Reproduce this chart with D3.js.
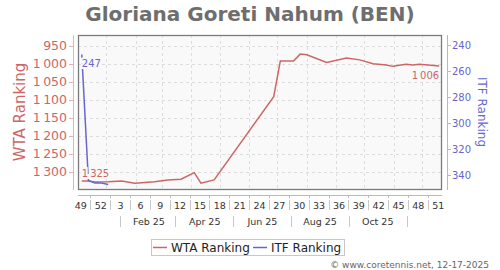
<!DOCTYPE html>
<html>
<head>
<meta charset="utf-8">
<script src="https://cdn.jsdelivr.net/npm/d3@7"></script>
<style>
  body { margin: 0; background: #fff; }
  text { font-family: "DejaVu Sans", sans-serif; }
</style>
</head>
<body>
<svg id="chart" width="500" height="270"></svg>
<script>
// WTA ranking history (weekly points where the line bends)
const wtaDates = ["2024-12-06","2024-12-13","2024-12-20","2025-01-03","2025-01-17","2025-01-31",
  "2025-02-21","2025-03-07","2025-03-21","2025-04-04","2025-04-11","2025-04-25","2025-06-27",
  "2025-07-04","2025-07-18","2025-07-25","2025-08-01","2025-08-22","2025-09-12","2025-09-26",
  "2025-10-10","2025-10-24","2025-10-31","2025-11-14","2025-11-21","2025-11-28","2025-12-19"];
const wtaRanks = [1325,1325,1328,1327,1325,1331,1327,1322,1320,1302,1331,1322,1091,
  992,992,973,975,996,984,989,1000,1003,1007,1001,1003,1001,1006];

// ITF ranking history
const itfDates = ["2024-12-06","2024-12-13","2024-12-20","2024-12-27","2025-01-03"];
const itfRanks = [247,344,346,346,347];

const wtaTicks = [950,1000,1050,1100,1150,1200,1250,1300];
const itfTicks = [240,260,280,300,320,340];
const weekLabels = ["49","52","3","6","9","12","15","18","21","24","27","30","33","36","39","42","45","48","51"];
const monthLabels = ["Feb 25","Apr 25","Jun 25","Aug 25","Oct 25"];

const parse = d3.utcParse("%Y-%m-%d");
const svg = d3.select("#chart");

const pLeft = 78, pRight = 442, pTop = 35, pBottom = 190;
const red = "#cc6666", blue = "#6666cc";

const x = d3.scaleUtc()
    .domain([parse("2024-12-02"), parse("2025-12-22")])
    .range([pLeft, pRight]);
const yWta = d3.scaleLinear().domain([920, 1350]).range([pTop, pBottom]);
const yItf = d3.scaleLinear().domain([232, 351.3]).range([pTop, pBottom]);

const fmt = d3.formatLocale({decimal: ",", thousands: "\u2009", grouping: [3], currency: ["", ""]}).format(",d");

// title
svg.append("text")
    .attr("x", 250).attr("y", 21)
    .attr("text-anchor", "middle")
    .attr("font-size", "20px").attr("font-weight", "bold")
    .attr("fill", "#6e6e6e")
    .text("Gloriana Goreti Nahum (BEN)");

// plot background
svg.append("rect")
    .attr("x", pLeft).attr("y", pTop)
    .attr("width", pRight - pLeft).attr("height", pBottom - pTop)
    .attr("fill", "#f9f9f9");

// grid
svg.append("g").selectAll("line")
    .data(wtaTicks).enter().append("line")
    .attr("x1", pLeft).attr("x2", pRight)
    .attr("y1", d => Math.round(yWta(d)) + 0.5).attr("y2", d => Math.round(yWta(d)) + 0.5)
    .attr("stroke", "#dddddd").attr("stroke-dasharray", "3,3");

const months = d3.utcMonth.range(parse("2025-01-01"), parse("2025-12-02"));
svg.append("g").selectAll("line")
    .data(months).enter().append("line")
    .attr("x1", d => Math.round(x(d)) + 0.5).attr("x2", d => Math.round(x(d)) + 0.5)
    .attr("y1", pTop).attr("y2", pBottom)
    .attr("stroke", "#dddddd").attr("stroke-dasharray", "3,3");

// series
const wta = wtaDates.map((d, i) => ({date: parse(d), v: wtaRanks[i]}));
const itf = itfDates.map((d, i) => ({date: parse(d), v: itfRanks[i]}));

svg.append("path")
    .datum(wta)
    .attr("fill", "none").attr("stroke", red).attr("stroke-width", 1.5)
    .attr("d", d3.line().x(d => x(d.date)).y(d => yWta(d.v)));

svg.append("path")
    .datum(itf)
    .attr("fill", "none").attr("stroke", blue).attr("stroke-width", 1.5)
    .attr("d", d3.line().x(d => x(d.date)).y(d => yItf(d.v)));

// point labels with halo
function pointLabel(px, py, txt, color, anchor) {
    svg.append("text")
        .attr("x", px).attr("y", py)
        .attr("text-anchor", anchor)
        .attr("font-size", "10px")
        .attr("fill", color)
        .attr("stroke", "#f9f9f9").attr("stroke-width", 4)
        .attr("paint-order", "stroke")
        .text(txt);
}
const w0 = wta[0], wN = wta[wta.length - 1], i0 = itf[0];
pointLabel(x(w0.date), yWta(w0.v) - 4, fmt(w0.v), red, "start");
pointLabel(x(wN.date), yWta(wN.v) + 13, fmt(wN.v), red, "end");
pointLabel(x(i0.date), yItf(i0.v) + 13, fmt(i0.v), blue, "start");

// frame
svg.append("rect")
    .attr("x", pLeft + 0.5).attr("y", pTop + 0.5)
    .attr("width", pRight - pLeft - 1).attr("height", pBottom - pTop - 1)
    .attr("fill", "none").attr("stroke", "#7a7a7a").attr("stroke-width", 1.3);

// left axis
const gl = svg.append("g");
gl.append("line").attr("x1", 73.5).attr("x2", 73.5).attr("y1", pTop).attr("y2", pBottom)
    .attr("stroke", "#e6b3b3");
gl.selectAll(".t").data(wtaTicks).enter().append("line")
    .attr("x1", 69).attr("x2", 73)
    .attr("y1", d => Math.round(yWta(d)) + 0.5).attr("y2", d => Math.round(yWta(d)) + 0.5)
    .attr("stroke", "#e6b3b3");
gl.selectAll("text").data(wtaTicks).enter().append("text")
    .attr("x", 67).attr("y", d => yWta(d))
    .attr("dy", "0.36em")
    .attr("text-anchor", "end")
    .attr("font-size", "12.5px").attr("fill", red)
    .text(d => fmt(d));
svg.append("text")
    .attr("transform", "translate(25,112) rotate(-90)")
    .attr("text-anchor", "middle")
    .attr("font-size", "15px").attr("fill", red)
    .text("WTA Ranking");

// right axis
const gr = svg.append("g");
gr.append("line").attr("x1", 447.5).attr("x2", 447.5).attr("y1", pTop).attr("y2", pBottom)
    .attr("stroke", "#b3b3e6");
gr.selectAll(".t").data(itfTicks).enter().append("line")
    .attr("x1", 447).attr("x2", 451)
    .attr("y1", d => Math.round(yItf(d)) + 0.5).attr("y2", d => Math.round(yItf(d)) + 0.5)
    .attr("stroke", "#b3b3e6");
gr.selectAll("text").data(itfTicks).enter().append("text")
    .attr("x", 452).attr("y", d => yItf(d))
    .attr("dy", "0.36em")
    .attr("font-size", "10px").attr("fill", blue)
    .text(d => d);
svg.append("text")
    .attr("transform", "translate(478,112) rotate(90)")
    .attr("text-anchor", "middle")
    .attr("font-size", "12px").attr("fill", blue)
    .text("ITF Ranking");

// bottom axis: week numbers every 3 weeks, months in second row
const firstWeek = parse("2024-12-02");
const weekPos = (i) => x(d3.utcDay.offset(firstWeek, 21 * i + 3));
const weekSep = (i) => x(d3.utcDay.offset(firstWeek, 21 * i + 13));

const gb = svg.append("g");
gb.append("line").attr("x1", pLeft).attr("x2", pRight).attr("y1", 195.5).attr("y2", 195.5)
    .attr("stroke", "#bbbbbb");
const seps = d3.range(weekLabels.length - 1);
gb.selectAll(".tk").data(seps).enter().append("line")
    .attr("x1", d => Math.round(weekSep(d)) + 0.5).attr("x2", d => Math.round(weekSep(d)) + 0.5)
    .attr("y1", 195).attr("y2", 198)
    .attr("stroke", "#bbbbbb");
gb.selectAll(".sp").data(seps).enter().append("line")
    .attr("x1", d => Math.round(weekSep(d)) + 0.5).attr("x2", d => Math.round(weekSep(d)) + 0.5)
    .attr("y1", 200).attr("y2", 210)
    .attr("stroke", "#c8c8c8");
gb.selectAll(".wl").data(weekLabels).enter().append("text")
    .attr("x", (d, i) => weekPos(i)).attr("y", 208.5)
    .attr("text-anchor", "middle")
    .attr("font-size", "9.5px").attr("fill", "#333")
    .text(d => d);

const monthSeps = ["2025-01-15","2025-03-15","2025-05-15","2025-07-15","2025-09-15","2025-11-15"].map(parse);
const monthMid = ["2025-02-15","2025-04-15","2025-06-15","2025-08-15","2025-10-15"].map(parse);
gb.selectAll(".ms").data(monthSeps).enter().append("line")
    .attr("x1", d => Math.round(x(d)) + 0.5).attr("x2", d => Math.round(x(d)) + 0.5)
    .attr("y1", 216).attr("y2", 227)
    .attr("stroke", "#c8c8c8");
gb.selectAll(".ml").data(monthLabels).enter().append("text")
    .attr("x", (d, i) => x(monthMid[i])).attr("y", 225)
    .attr("text-anchor", "middle")
    .attr("font-size", "9.5px").attr("fill", "#333")
    .text(d => d);

// legend
const lg = svg.append("g");
lg.append("rect").attr("x", 151.5).attr("y", 239.5).attr("width", 193).attr("height", 16)
    .attr("fill", "#fff").attr("stroke", "#c8c8c8");
const legendItems = [{name: "WTA Ranking", color: red, x0: 153}, {name: "ITF Ranking", color: blue, x0: 253}];
legendItems.forEach(it => {
    lg.append("line").attr("x1", it.x0).attr("x2", it.x0 + 14).attr("y1", 247.5).attr("y2", 247.5)
        .attr("stroke", it.color).attr("stroke-width", 1.5);
    lg.append("text").attr("x", it.x0 + 18).attr("y", 252)
        .attr("font-size", "12px").attr("fill", "#222")
        .text(it.name);
});

// footer
svg.append("text")
    .attr("x", 489).attr("y", 268)
    .attr("text-anchor", "end")
    .attr("font-size", "9px").attr("fill", "#666")
    .text("\u00a9 www.coretennis.net, 12-17-2025");
</script>
</body>
</html>
